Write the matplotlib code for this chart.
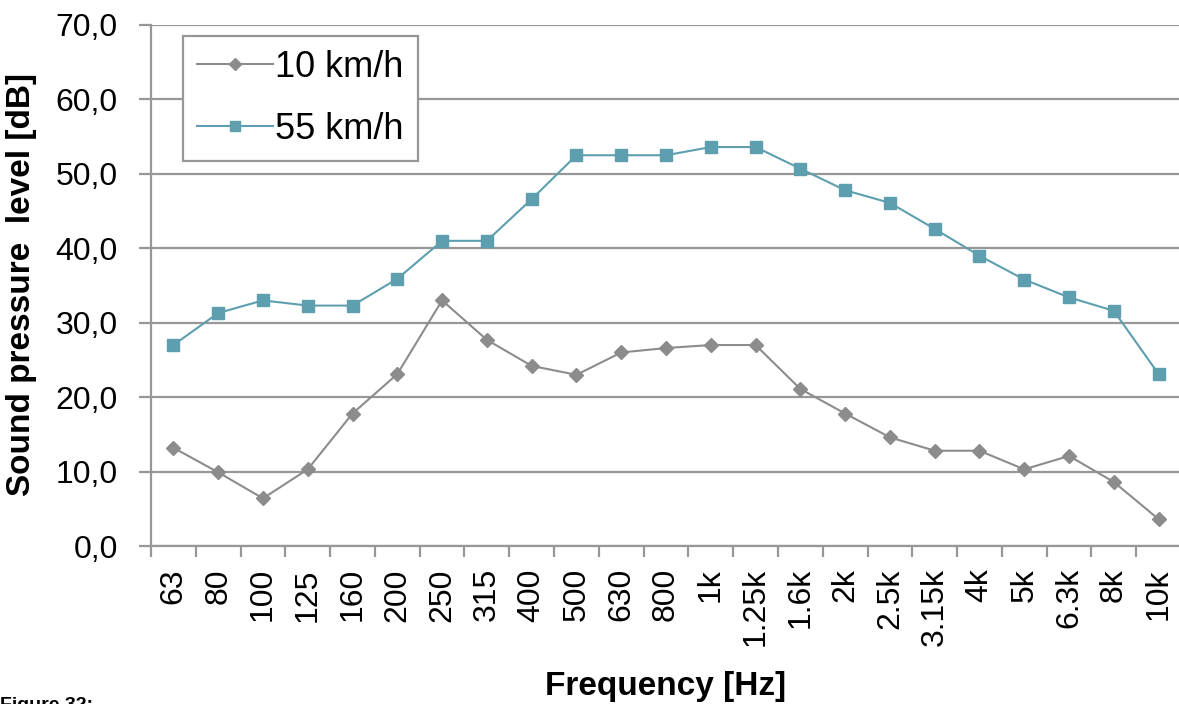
import matplotlib
matplotlib.use("Agg")
import matplotlib.pyplot as plt
from matplotlib.ticker import FixedLocator, FuncFormatter

plt.rcParams['font.family'] = ['Liberation Sans', 'DejaVu Sans']

# Third-octave band centre frequencies
bands = ["63", "80", "100", "125", "160", "200", "250", "315", "400", "500",
         "630", "800", "1k", "1.25k", "1.6k", "2k", "2.5k", "3.15k", "4k",
         "5k", "6.3k", "8k", "10k"]

# Sound pressure level [dB] per band
spl_10 = [13.2, 9.9, 6.4, 10.3, 17.8, 23.1, 33.0, 27.7, 24.2, 23.0,
          26.0, 26.6, 27.0, 27.0, 21.1, 17.8, 14.6, 12.8, 12.8,
          10.3, 12.1, 8.6, 3.6]
spl_55 = [27.0, 31.3, 33.0, 32.3, 32.3, 35.9, 41.0, 41.0, 46.6, 52.5,
          52.5, 52.5, 53.6, 53.6, 50.7, 47.8, 46.1, 42.6, 39.0,
          35.8, 33.4, 31.6, 23.1]

y_ticks = [0, 10, 20, 30, 40, 50, 60, 70]

W, H = 1179, 704
fig = plt.figure(figsize=(W / 100, H / 100), dpi=100)
ax = fig.add_axes([151 / W, 1 - 546 / H, (1181 - 151) / W, 521 / H])

grid_c = '#979797'
gray = '#8c8c8c'
teal = '#5d9fae'

x = list(range(len(bands)))
ax.plot(x, spl_10, color=gray, lw=1.5, marker='D', ms=7.5,
        mfc=gray, mec=gray, label='10 km/h', zorder=3)
ax.plot(x, spl_55, color=teal, lw=1.5, marker='s', ms=8.8,
        mfc=teal, mec=teal, label='55 km/h', zorder=3)

ax.set_xlim(-0.5, len(bands) - 0.5)
ax.set_ylim(0, 70)

ax.yaxis.set_major_locator(FixedLocator(y_ticks))
ax.yaxis.set_major_formatter(FuncFormatter(lambda v, p: f"{v:.1f}".replace('.', ',')))
ax.grid(axis='y', color=grid_c, lw=1.6, zorder=0)
ax.set_axisbelow(True)

ax.set_xticks(x)
ax.set_xticklabels(bands, rotation=90)
ax.set_xticks([i - 0.5 for i in range(len(bands) + 1)], minor=True)
ax.tick_params(axis='x', which='major', length=0, pad=16, labelsize=23)
ax.tick_params(axis='x', which='minor', length=8, width=1.6, color=grid_c,
               direction='out')
ax.tick_params(axis='y', length=9, width=1.6, color=grid_c, pad=15,
               labelsize=23)

for side in ('top', 'right'):
    ax.spines[side].set_visible(False)
for side in ('left', 'bottom'):
    ax.spines[side].set_color(grid_c)
    ax.spines[side].set_linewidth(1.6)

leg = ax.legend(loc='upper left', bbox_to_anchor=(183 / W, 1 - 36 / H),
                bbox_transform=fig.transFigure, borderaxespad=0,
                fontsize=26, frameon=True, fancybox=False, framealpha=1,
                edgecolor=grid_c, handlelength=2.1, handletextpad=0.08,
                labelspacing=0.75, borderpad=0.38, markerscale=0.8)
leg.get_frame().set_linewidth(1.6)

fig.text(22 / W, 1 - 285 / H, 'Sound pressure  level [dB]', rotation=90,
         ha='center', va='center', fontsize=24, fontweight='bold')
fig.text(666 / W, 1 - 686 / H, 'Frequency [Hz]', ha='center', va='center',
         fontsize=24, fontweight='bold')
fig.text(0, 1 - 697 / H, 'Figure 32:', ha='left', va='top', fontsize=14,
         fontweight='bold')

fig.savefig('out.png', dpi=100)
